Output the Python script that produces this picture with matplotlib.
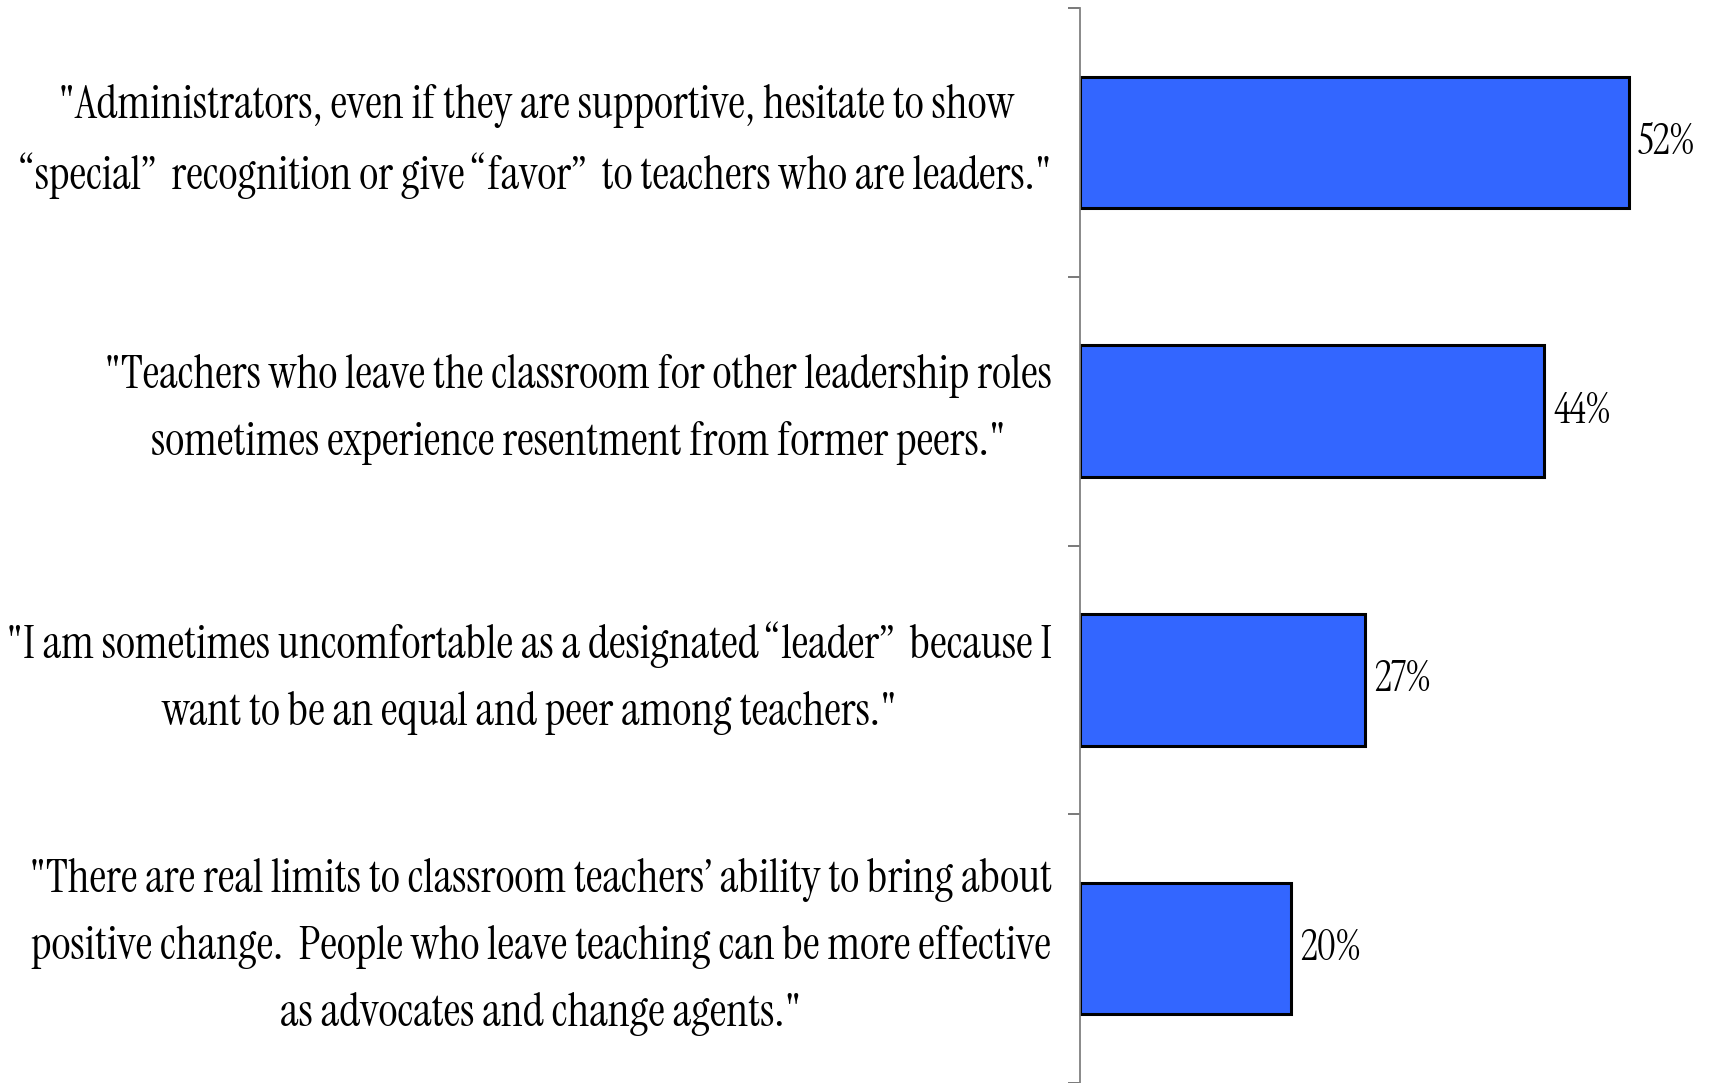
import matplotlib
matplotlib.use('Agg')
import matplotlib.pyplot as plt
from matplotlib.transforms import ScaledTranslation

statements = [
    '"Administrators, even if they are supportive, hesitate to show\n'
    '\u201cspecial\u201d  recognition or give \u201cfavor\u201d  to teachers who are leaders."',
    '"Teachers who leave the classroom for other leadership roles\n'
    'sometimes experience resentment from former peers."',
    '"I am sometimes uncomfortable as a designated \u201cleader\u201d  because I\n'
    'want to be an equal and peer among teachers."',
    '"There are real limits to classroom teachers\u2019 ability to bring about\n'
    'positive change.  People who leave teaching can be more effective\n'
    'as advocates and change agents."',
]
shares = [0.52, 0.44, 0.27, 0.20]
share_labels = ['52%', '44%', '27%', '20%']

font = ['Instrument Serif', 'DejaVu Serif']

fig = plt.figure(figsize=(17.13, 10.83), dpi=100)
ax = fig.add_axes([0.6305, 0.0, 0.3695, 0.9926])

pos = list(range(len(statements)))
bars = ax.barh(pos, shares, height=0.49, color='#3366FF',
               edgecolor='black', linewidth=2.2)

for bar, txt in zip(bars, share_labels):
    ax.text(bar.get_width() + 0.009, bar.get_y() + bar.get_height() / 2, txt,
            ha='left', va='center', fontsize=30, family=font)

ax.set_xlim(0, 0.6)
ax.set_ylim(3.5, -0.5)

ax.set_yticks(pos)
ax.set_yticklabels(statements, family=font, fontsize=33.4, linespacing=1.67)
ax.tick_params(axis='y', which='major', length=0, pad=20)

# short outward ticks between the categories
ax.set_yticks([p - 0.5 for p in pos] + [len(pos) - 0.5], minor=True)
ax.tick_params(axis='y', which='minor', length=9, width=1.1,
               color='#555555', direction='out')
ax.set_xticks([])

# tick_params resets label transforms, so lift the labels afterwards
lift = ScaledTranslation(0, 0.18, fig.dpi_scale_trans)
for lbl in ax.get_yticklabels():
    lbl.set_multialignment('center')
    lbl.set_transform(lbl.get_transform() + lift)

for side in ['top', 'right', 'bottom']:
    ax.spines[side].set_visible(False)
ax.spines['left'].set_color('#808080')
ax.spines['left'].set_linewidth(1.3)

fig.savefig('out.png', dpi=100)
